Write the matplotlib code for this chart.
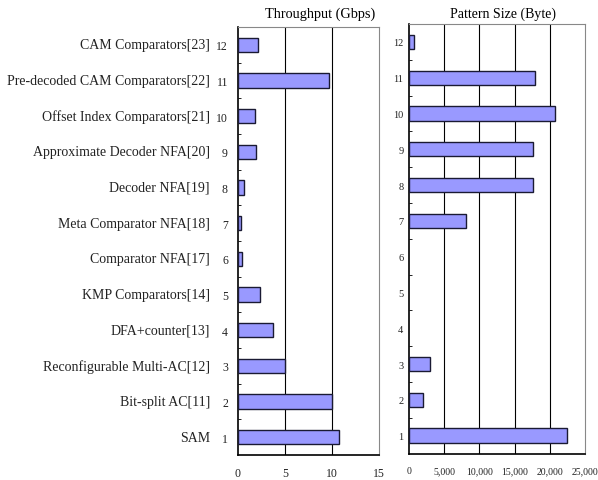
import matplotlib.pyplot as plt
import matplotlib.transforms as mtransforms
import numpy as np

plt.rcParams['font.family'] = 'Liberation Serif'

# architectures, bottom (1) to top (12)
names = ["SAM", "Bit-split AC[11]", "Reconfigurable Multi-AC[12]", "DFA+counter[13]",
         "KMP Comparators[14]", "Comparator NFA[17]", "Meta Comparator NFA[18]",
         "Decoder NFA[19]", "Approximate Decoder NFA[20]", "Offset Index Comparators[21]",
         "Pre-decoded CAM Comparators[22]", "CAM Comparators[23]"]
ids = list(range(1, 13))
throughput = [10.7, 10.0, 5.0, 3.7, 2.35, 0.5, 0.35, 0.7, 1.95, 1.85, 9.7, 2.2]
pattern_size = [22500, 2000, 3000, 0, 0, 0, 8050, 17650, 17650, 20800, 17950, 650]

bar_color = '#9999ff'
edge_color = '#1a1a33'

fig = plt.figure(figsize=(5.98, 4.81), dpi=100)
ax1 = fig.add_axes([0.3975, 0.052, 0.2368, 0.8898])
ax2 = fig.add_axes([0.684, 0.055, 0.2943, 0.893])


def style_axis(ax, xmax, grid_vals, ysize, ypad):
    ax.set_xlim(0, xmax)
    ax.set_ylim(0.5, 12.5)
    for v in grid_vals:
        ax.axvline(v, color='black', lw=0.8, zorder=1)
    ax.spines['left'].set_color('black')
    ax.spines['bottom'].set_color('black')
    ax.spines['left'].set_linewidth(1.2)
    ax.spines['bottom'].set_linewidth(1.2)
    ax.spines['top'].set_color('#888888')
    ax.spines['right'].set_color('#888888')
    ax.spines['top'].set_linewidth(0.8)
    ax.spines['right'].set_linewidth(0.8)
    ax.set_yticks(ids)
    ax.set_yticklabels([str(i) for i in ids], fontsize=ysize, color='#222222')
    ax.set_yticks(np.arange(1.5, 12.5, 1), minor=True)
    ax.tick_params(axis='y', which='major', length=0, pad=ypad)
    ax.tick_params(axis='y', which='minor', length=2.5, direction='in', color='black')
    ax.tick_params(axis='x', length=0, pad=9, colors='#222222')


def draw_bars(ax, values):
    # zero entries get no outline so nothing shows for them
    widths = [1.0 if v > 0 else 0.0 for v in values]
    ax.barh(ids, values, height=0.4, color=bar_color, edgecolor=edge_color,
            linewidth=widths, zorder=3)


draw_bars(ax1, throughput)
style_axis(ax1, 15, [5, 10], 8.5, 7)
ax1.set_xticks([0, 5, 10, 15])
ax1.set_xticklabels(["0", "5", "10", "15"], fontsize=8.5)
ax1.set_title("Throughput (Gbps)", fontsize=10.3, pad=7, x=0.58)

trans = mtransforms.blended_transform_factory(ax1.transAxes, ax1.transData)
for i, name in zip(ids, names):
    ax1.text(-0.196, i, name, transform=trans, ha='right', va='center',
             fontsize=10, color='#222222')

draw_bars(ax2, pattern_size)
style_axis(ax2, 25000, [5000, 10000, 15000, 20000], 7.5, 4)
ax2.set_xticks([0, 5000, 10000, 15000, 20000, 25000])
ax2.set_xticklabels(["0", "5,000", "10,000", "15,000", "20,000", "25,000"], fontsize=7)
ax2.set_title("Pattern Size (Byte)", fontsize=10, pad=5.5, x=0.534)

fig.savefig("out.png", dpi=100)
